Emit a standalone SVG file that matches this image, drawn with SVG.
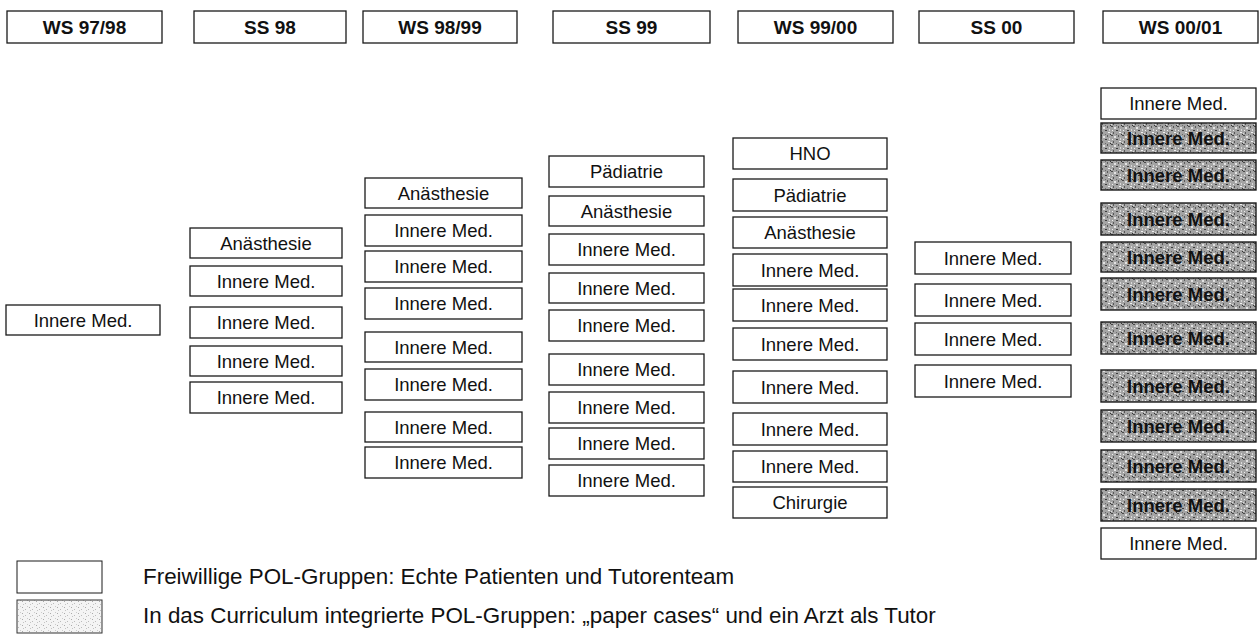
<svg xmlns="http://www.w3.org/2000/svg" width="1259" height="635" viewBox="0 0 1259 635">
<defs>
<style>
.box{fill:#fff;stroke:#1a1a1a;stroke-width:1.3}
.gbox{fill:url(#speck);stroke:#1a1a1a;stroke-width:1.4}
.lbox{fill:url(#speckLight);stroke:#333;stroke-width:1}
.t{font-family:"Liberation Sans",Arial,Helvetica,sans-serif;font-size:18.5px;text-anchor:middle;fill:#111}
.gt{font-family:"Liberation Sans",Arial,Helvetica,sans-serif;font-size:18.5px;font-weight:bold;text-anchor:middle;fill:#111}
.h{font-family:"Liberation Sans",Arial,Helvetica,sans-serif;font-size:19px;font-weight:bold;text-anchor:middle;fill:#111}
.leg{font-family:"Liberation Sans",Arial,Helvetica,sans-serif;font-size:22.4px;fill:#111}
</style>
<pattern id="speck" width="11" height="9" patternUnits="userSpaceOnUse">
<rect width="11" height="9" fill="#a4a4a4"/>
<rect x="0" y="0" width="2" height="1" fill="#4a4a4a"/>
<rect x="3" y="1" width="2" height="2" fill="#e2e2e2"/>
<rect x="7" y="0" width="1" height="2" fill="#5a5a5a"/>
<rect x="1" y="4" width="1" height="1" fill="#eee"/>
<rect x="5" y="4" width="2" height="1" fill="#3c3c3c"/>
<rect x="9" y="3" width="1" height="2" fill="#d8d8d8"/>
<rect x="2" y="6" width="1" height="2" fill="#555"/>
<rect x="8" y="6" width="2" height="1" fill="#f0f0f0"/>
<rect x="5" y="8" width="1" height="1" fill="#6a6a6a"/>
<rect x="0" y="7" width="1" height="1" fill="#dcdcdc"/>
<rect x="10" y="8" width="1" height="1" fill="#333"/>
</pattern>
<pattern id="speckLight" width="7" height="6" patternUnits="userSpaceOnUse">
<rect width="7" height="6" fill="#f4f4f4"/>
<rect x="1" y="1" width="1" height="1" fill="#aaa"/>
<rect x="4" y="3" width="1" height="1" fill="#bbb"/>
<rect x="6" y="0" width="1" height="1" fill="#ccc"/>
<rect x="2" y="4" width="1" height="1" fill="#c4c4c4"/>
</pattern>
</defs>
<rect width="1259" height="635" fill="#fff"/>

<g id="headers">
<g id="h1"><rect class="box" x="7" y="11" width="155" height="32"/><text class="h" x="84.5" y="34">WS 97/98</text></g>
<g id="h2"><rect class="box" x="194" y="11" width="152" height="32"/><text class="h" x="270" y="34">SS 98</text></g>
<g id="h3"><rect class="box" x="363" y="11" width="154" height="32"/><text class="h" x="440" y="34">WS 98/99</text></g>
<g id="h4"><rect class="box" x="553" y="11" width="157" height="32"/><text class="h" x="631.5" y="34">SS 99</text></g>
<g id="h5"><rect class="box" x="738" y="11" width="155" height="32"/><text class="h" x="815.5" y="34">WS 99/00</text></g>
<g id="h6"><rect class="box" x="919" y="11" width="155" height="32"/><text class="h" x="996.5" y="34">SS 00</text></g>
<g id="h7"><rect class="box" x="1103" y="11" width="155" height="32"/><text class="h" x="1180.5" y="34">WS 00/01</text></g>
</g>

<g id="col1">
<g id="c1n1"><rect class="box" x="6" y="305" width="154" height="30"/><text class="t" x="83" y="326.5">Innere Med.</text></g>
</g>

<g id="col2">
<g id="c2n1"><rect class="box" x="190" y="228" width="152" height="30"/><text class="t" x="266" y="249.5">Anästhesie</text></g>
<g id="c2n2"><rect class="box" x="190" y="266" width="152" height="30"/><text class="t" x="266" y="287.5">Innere Med.</text></g>
<g id="c2n3"><rect class="box" x="190" y="307" width="152" height="31"/><text class="t" x="266" y="329">Innere Med.</text></g>
<g id="c2n4"><rect class="box" x="190" y="346" width="152" height="30"/><text class="t" x="266" y="367.5">Innere Med.</text></g>
<g id="c2n5"><rect class="box" x="190" y="382" width="152" height="31"/><text class="t" x="266" y="404">Innere Med.</text></g>
</g>

<g id="col3">
<g id="c3n1"><rect class="box" x="365" y="178" width="157" height="30"/><text class="t" x="443.5" y="199.5">Anästhesie</text></g>
<g id="c3n2"><rect class="box" x="365" y="215" width="157" height="31"/><text class="t" x="443.5" y="237">Innere Med.</text></g>
<g id="c3n3"><rect class="box" x="365" y="251" width="157" height="31"/><text class="t" x="443.5" y="273">Innere Med.</text></g>
<g id="c3n4"><rect class="box" x="365" y="288" width="157" height="31"/><text class="t" x="443.5" y="310">Innere Med.</text></g>
<g id="c3n5"><rect class="box" x="365" y="332" width="157" height="30"/><text class="t" x="443.5" y="353.5">Innere Med.</text></g>
<g id="c3n6"><rect class="box" x="365" y="369" width="157" height="31"/><text class="t" x="443.5" y="391">Innere Med.</text></g>
<g id="c3n7"><rect class="box" x="365" y="412" width="157" height="30"/><text class="t" x="443.5" y="433.5">Innere Med.</text></g>
<g id="c3n8"><rect class="box" x="365" y="447" width="157" height="31"/><text class="t" x="443.5" y="469">Innere Med.</text></g>
</g>

<g id="col4">
<g id="c4n1"><rect class="box" x="549" y="156" width="155" height="31"/><text class="t" x="626.5" y="178">Pädiatrie</text></g>
<g id="c4n2"><rect class="box" x="549" y="196" width="155" height="30"/><text class="t" x="626.5" y="217.5">Anästhesie</text></g>
<g id="c4n3"><rect class="box" x="549" y="234" width="155" height="31"/><text class="t" x="626.5" y="256">Innere Med.</text></g>
<g id="c4n4"><rect class="box" x="549" y="273" width="155" height="30"/><text class="t" x="626.5" y="294.5">Innere Med.</text></g>
<g id="c4n5"><rect class="box" x="549" y="310" width="155" height="31"/><text class="t" x="626.5" y="332">Innere Med.</text></g>
<g id="c4n6"><rect class="box" x="549" y="354" width="155" height="31"/><text class="t" x="626.5" y="376">Innere Med.</text></g>
<g id="c4n7"><rect class="box" x="549" y="392" width="155" height="31"/><text class="t" x="626.5" y="414">Innere Med.</text></g>
<g id="c4n8"><rect class="box" x="549" y="428" width="155" height="31"/><text class="t" x="626.5" y="450">Innere Med.</text></g>
<g id="c4n9"><rect class="box" x="549" y="465" width="155" height="31"/><text class="t" x="626.5" y="487">Innere Med.</text></g>
</g>

<g id="col5">
<g id="c5n1"><rect class="box" x="733" y="138" width="154" height="31"/><text class="t" x="810" y="160">HNO</text></g>
<g id="c5n2"><rect class="box" x="733" y="179" width="154" height="32"/><text class="t" x="810" y="201.5">Pädiatrie</text></g>
<g id="c5n3"><rect class="box" x="733" y="217" width="154" height="31"/><text class="t" x="810" y="239">Anästhesie</text></g>
<g id="c5n4"><rect class="box" x="733" y="254" width="154" height="32"/><text class="t" x="810" y="276.5">Innere Med.</text></g>
<g id="c5n5"><rect class="box" x="733" y="289" width="154" height="32"/><text class="t" x="810" y="311.5">Innere Med.</text></g>
<g id="c5n6"><rect class="box" x="733" y="328" width="154" height="32"/><text class="t" x="810" y="350.5">Innere Med.</text></g>
<g id="c5n7"><rect class="box" x="733" y="371" width="154" height="32"/><text class="t" x="810" y="393.5">Innere Med.</text></g>
<g id="c5n8"><rect class="box" x="733" y="413" width="154" height="32"/><text class="t" x="810" y="435.5">Innere Med.</text></g>
<g id="c5n9"><rect class="box" x="733" y="451" width="154" height="31"/><text class="t" x="810" y="473">Innere Med.</text></g>
<g id="c5n10"><rect class="box" x="733" y="487" width="154" height="31"/><text class="t" x="810" y="509">Chirurgie</text></g>
</g>

<g id="col6">
<g id="c6n1"><rect class="box" x="915" y="242" width="156" height="32"/><text class="t" x="993" y="264.5">Innere Med.</text></g>
<g id="c6n2"><rect class="box" x="915" y="284" width="156" height="32"/><text class="t" x="993" y="306.5">Innere Med.</text></g>
<g id="c6n3"><rect class="box" x="915" y="323" width="156" height="32"/><text class="t" x="993" y="345.5">Innere Med.</text></g>
<g id="c6n4"><rect class="box" x="915" y="365" width="156" height="32"/><text class="t" x="993" y="387.5">Innere Med.</text></g>
</g>

<g id="col7">
<g id="c7n1"><rect class="box" x="1101" y="88" width="155" height="31"/><text class="t" x="1178.5" y="110">Innere Med.</text></g>
<g id="c7n2"><rect class="gbox" x="1101" y="123" width="155" height="30"/><text class="gt" x="1178.5" y="144.5">Innere Med.</text></g>
<g id="c7n3"><rect class="gbox" x="1101" y="160" width="155" height="30"/><text class="gt" x="1178.5" y="181.5">Innere Med.</text></g>
<g id="c7n4"><rect class="gbox" x="1101" y="203" width="155" height="32"/><text class="gt" x="1178.5" y="225.5">Innere Med.</text></g>
<g id="c7n5"><rect class="gbox" x="1101" y="242" width="155" height="30"/><text class="gt" x="1178.5" y="263.5">Innere Med.</text></g>
<g id="c7n6"><rect class="gbox" x="1101" y="278" width="155" height="32"/><text class="gt" x="1178.5" y="300.5">Innere Med.</text></g>
<g id="c7n7"><rect class="gbox" x="1101" y="322" width="155" height="32"/><text class="gt" x="1178.5" y="344.5">Innere Med.</text></g>
<g id="c7n8"><rect class="gbox" x="1101" y="370" width="155" height="32"/><text class="gt" x="1178.5" y="392.5">Innere Med.</text></g>
<g id="c7n9"><rect class="gbox" x="1101" y="410" width="155" height="32"/><text class="gt" x="1178.5" y="432.5">Innere Med.</text></g>
<g id="c7n10"><rect class="gbox" x="1101" y="450" width="155" height="32"/><text class="gt" x="1178.5" y="472.5">Innere Med.</text></g>
<g id="c7n11"><rect class="gbox" x="1101" y="489" width="155" height="32"/><text class="gt" x="1178.5" y="511.5">Innere Med.</text></g>
<g id="c7n12"><rect class="box" x="1101" y="528" width="155" height="31"/><text class="t" x="1178.5" y="550">Innere Med.</text></g>
</g>

<g id="legend">
<g id="leg1"><rect class="box" x="17" y="561" width="85" height="32" style="stroke-width:1"/><text class="leg" x="143" y="584">Freiwillige POL-Gruppen: Echte Patienten und Tutorenteam</text></g>
<g id="leg2"><rect class="lbox" x="17" y="600" width="85" height="33"/><text class="leg" x="143" y="623">In das Curriculum integrierte POL-Gruppen: „paper cases“ und ein Arzt als Tutor</text></g>
</g>
</svg>
